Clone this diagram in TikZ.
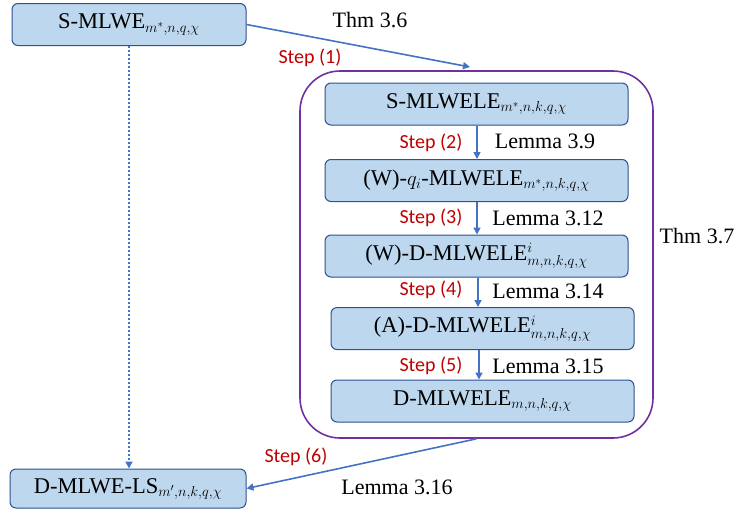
\documentclass[tikz,border=0pt]{standalone}
\usepackage{fontspec}
\usepackage{amsmath}
\setmainfont{Liberation Serif}
\newfontfamily\stepfont{Carlito}
\usetikzlibrary{arrows.meta}
\definecolor{boxfill}{HTML}{BDD7EE}
\definecolor{boxline}{HTML}{2F528F}
\definecolor{arrowblue}{HTML}{4472C4}
\definecolor{thmpurple}{HTML}{7030A0}
\definecolor{stepred}{HTML}{C00000}
\tikzset{
    probbox/.style={draw=boxline, line width=1pt, fill=boxfill, rounded corners=6pt, minimum height=42pt, inner sep=0pt, font=\fontsize{22.5pt}{25pt}\selectfont},
    steplabel/.style={text=stepred, font=\stepfont\fontsize{20pt}{23pt}\selectfont},
    reflabel/.style={font=\fontsize{22pt}{25pt}\selectfont},
    redarrow/.style={draw=arrowblue, line width=1.6pt, -{Triangle[width=7pt,length=7pt]}}
}
\begin{document}
\begin{tikzpicture}[x=1pt, y=-1pt]
    \useasboundingbox (0,0) rectangle (737,512);
    % outer problems
    \node[probbox, minimum width=234pt] (smlwe) at (129,24.5) {S-MLWE$_{m^*,n,q,\chi}$};
    \node[probbox, minimum width=236pt, minimum height=39pt] (dls) at (128,488.5) {D-MLWE-LS$_{m',n,k,q,\chi}$};
    % theorem 3.7 frame
    \node[draw=thmpurple, line width=1.6pt, rounded corners=40pt, minimum width=353pt, minimum height=367pt, inner sep=0pt] (thm) at (476.5,254.5) {};
    % inner chain
    \node[probbox, minimum width=303pt] (s1) at (476.5,104) {S-MLWELE$_{m^*,n,k,q,\chi}$};
    \node[probbox, minimum width=303pt] (s2) at (476.5,180.5) {(W)-$q_i$-MLWELE$_{m^*,n,k,q,\chi}$};
    \node[probbox, minimum width=303pt] (s3) at (476.5,256) {(W)-D-MLWELE$^i_{m,n,k,q,\chi}$};
    \node[probbox, minimum width=303pt] (s4) at (482.5,328.5) {(A)-D-MLWELE$^i_{m,n,k,q,\chi}$};
    \node[probbox, minimum width=303pt] (s5) at (482.5,401) {D-MLWELE$_{m,n,k,q,\chi}$};
    \coordinate (thmtop) at (470,67);
    % connectors
    \draw[redarrow] (smlwe.east) -- (thmtop);
    \draw[redarrow, dash pattern=on 2pt off 2pt, line width=2.4pt] (smlwe.south) -- (smlwe.south |- dls.north);
    \draw[redarrow] (s1.south -| 477,0) -- (s2.north -| 477,0);
    \draw[redarrow] (s2.south -| 477,0) -- (s3.north -| 477,0);
    \draw[redarrow] (s3.south -| 478,0) -- (s4.north -| 478,0);
    \draw[redarrow] (s4.south -| 479,0) -- (s5.north -| 479,0);
    \draw[redarrow] (thm.south) -- (dls.east);
    % labels
    \node[reflabel] (t36) at (370,20) {Thm 3.6};
    \node[steplabel] (st1) at (310,58) {Step (1)};
    \node[steplabel] (st2) at (431,143) {Step (2)};
    \node[reflabel] (l39) at (545,141) {Lemma 3.9};
    \node[steplabel] (st3) at (431,218) {Step (3)};
    \node[reflabel] (l312) at (548,218) {Lemma 3.12};
    \node[steplabel] (st4) at (431,290) {Step (4)};
    \node[reflabel] (l314) at (548,291) {Lemma 3.14};
    \node[steplabel] (st5) at (431,366) {Step (5)};
    \node[reflabel] (l315) at (548,366) {Lemma 3.15};
    \node[reflabel] (t37) at (697,236) {Thm 3.7};
    \node[steplabel] (st6) at (296,457) {Step (6)};
    \node[reflabel] (l316) at (397,487) {Lemma 3.16};
\end{tikzpicture}
\end{document}
